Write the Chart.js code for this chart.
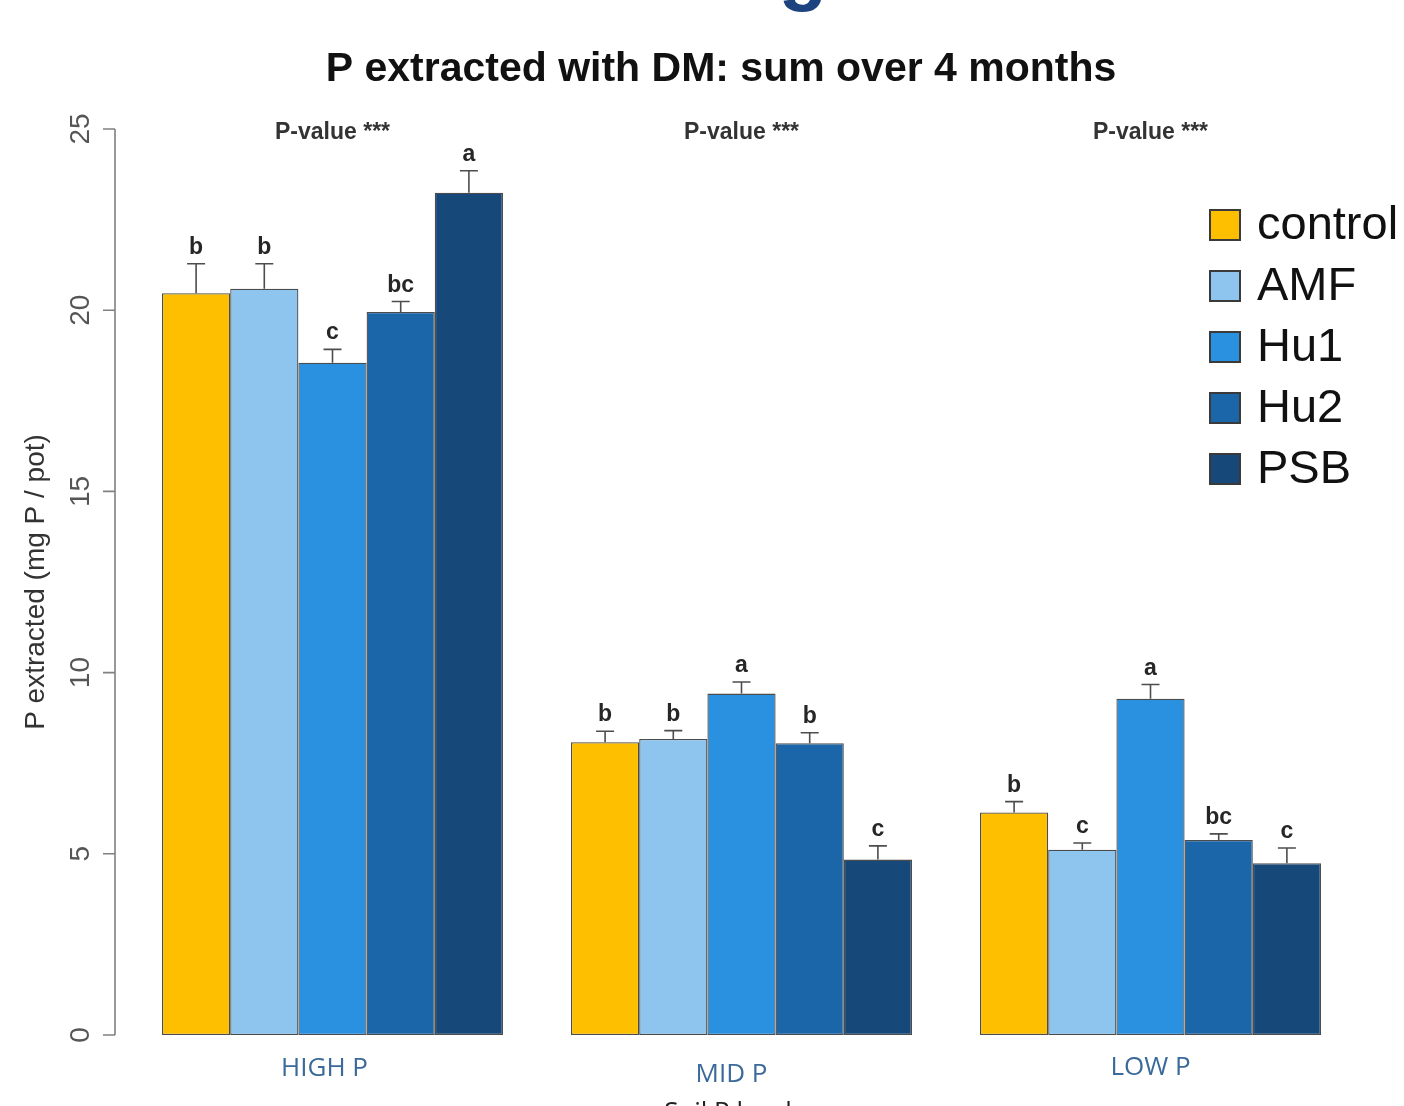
<!DOCTYPE html>
<html>
<head>
<meta charset="utf-8">
<title>P extracted with DM</title>
<script src="https://cdn.jsdelivr.net/npm/chart.js@4/dist/chart.umd.min.js"></script>
<style>
  html, body { margin: 0; padding: 0; background: #ffffff; }
  #wrap { position: relative; width: 1404px; height: 1106px; overflow: hidden; }
  canvas { display: block; }
</style>
</head>
<body>
<div id="wrap"><canvas id="chart" width="1404" height="1106"></canvas></div>
<script>
// Soil P levels (groups) and treatments (series)
const soilLevels = ['HIGH P', 'MID P', 'LOW P'];
const treatments = ['control', 'AMF', 'Hu1', 'Hu2', 'PSB'];

// Mean P extracted (mg P / pot), summed over 4 months
const controlMean = [20.47, 8.08, 6.14];
const amfMean     = [20.59, 8.17, 5.11];
const hu1Mean     = [18.55, 9.42, 9.28];
const hu2Mean     = [19.95, 8.05, 5.38];
const psbMean     = [23.24, 4.84, 4.74];

// Standard errors (upper whiskers)
const controlSE = [0.81, 0.30, 0.30];
const amfSE     = [0.69, 0.23, 0.19];
const hu1SE     = [0.37, 0.32, 0.39];
const hu2SE     = [0.29, 0.29, 0.17];
const psbSE     = [0.61, 0.38, 0.42];

// Significance letters per bar
const controlLetters = ['b', 'b', 'b'];
const amfLetters     = ['b', 'b', 'c'];
const hu1Letters     = ['c', 'a', 'a'];
const hu2Letters     = ['bc', 'b', 'bc'];
const psbLetters     = ['a', 'c', 'c'];

// Significance of the treatment effect within each soil level
const pValueLabels = ['P-value ***', 'P-value ***', 'P-value ***'];

// Y axis ticks
const yTicks = [0, 5, 10, 15, 20, 25];

const colors = ['#fdbf00', '#8ec5ef', '#2a90e0', '#1b66a8', '#16497a'];

const means = [controlMean, amfMean, hu1Mean, hu2Mean, psbMean];
const errors = [controlSE, amfSE, hu1SE, hu2SE, psbSE];
const letters = [controlLetters, amfLetters, hu1Letters, hu2Letters, psbLetters];

const datasets = treatments.map((t, i) => ({
  label: t,
  data: means[i],
  se: errors[i],
  letters: letters[i],
  backgroundColor: colors[i],
  borderColor: 'rgba(45,45,45,0.85)',
  borderWidth: 1.3,
  borderSkipped: false,
  categoryPercentage: 341 / 409,
  barPercentage: 1.0
}));

const SANS = '"Liberation Sans", Arial, Helvetica, sans-serif';

// Draws R-style axis, error bars, letters, titles and legend
const annotate = {
  id: 'annotate',
  afterDatasetsDraw(chart) {
    const ctx = chart.ctx;
    const y = chart.scales.y;
    const area = chart.chartArea;

    // error whiskers and letters
    chart.data.datasets.forEach((ds, di) => {
      const meta = chart.getDatasetMeta(di);
      meta.data.forEach((bar, i) => {
        const top = y.getPixelForValue(ds.data[i] + ds.se[i]);
        const cx = bar.x;
        ctx.save();
        ctx.strokeStyle = '#4d4d4d';
        ctx.lineWidth = 1.6;
        ctx.beginPath();
        ctx.moveTo(cx, bar.y);
        ctx.lineTo(cx, top);
        ctx.moveTo(cx - 9, top);
        ctx.lineTo(cx + 9, top);
        ctx.stroke();
        ctx.fillStyle = '#262626';
        ctx.font = 'bold 23px ' + SANS;
        ctx.textAlign = 'center';
        ctx.textBaseline = 'alphabetic';
        ctx.fillText(ds.letters[i], cx, top - 10);
        ctx.restore();
      });
    });

    // P-value labels above each group
    const xs = chart.scales.x;
    ctx.save();
    ctx.fillStyle = '#333333';
    ctx.font = 'bold 23px ' + SANS;
    ctx.textAlign = 'center';
    ctx.textBaseline = 'middle';
    soilLevels.forEach((lvl, i) => {
      ctx.fillText(pValueLabels[i], xs.getPixelForValue(i), 133);
    });
    ctx.restore();

    // y axis drawn left of the plot, R style
    const axX = area.left - 13;
    ctx.save();
    ctx.strokeStyle = '#808080';
    ctx.lineWidth = 1.6;
    ctx.beginPath();
    ctx.moveTo(axX, y.getPixelForValue(yTicks[0]));
    ctx.lineTo(axX, y.getPixelForValue(yTicks[yTicks.length - 1]));
    yTicks.forEach(v => {
      const py = y.getPixelForValue(v);
      ctx.moveTo(axX, py);
      ctx.lineTo(axX - 12, py);
    });
    ctx.stroke();
    ctx.fillStyle = '#555555';
    ctx.font = '28px ' + SANS;
    ctx.textAlign = 'center';
    ctx.textBaseline = 'middle';
    yTicks.forEach(v => {
      const py = y.getPixelForValue(v);
      ctx.save();
      ctx.translate(81, py);
      ctx.rotate(-Math.PI / 2);
      ctx.fillText(String(v), 0, 0);
      ctx.restore();
    });
    ctx.fillStyle = '#333333';
    ctx.font = '28px ' + SANS;
    ctx.save();
    ctx.translate(36, 582);
    ctx.rotate(-Math.PI / 2);
    ctx.fillText('P extracted (mg P / pot)', 0, 0);
    ctx.restore();
    ctx.restore();

    // group labels under the bars
    ctx.save();
    ctx.fillStyle = '#3b6a9a';
    ctx.font = '26px "Liberation Sans Narrow", "Open Sans", sans-serif';
    ctx.textAlign = 'center';
    ctx.textBaseline = 'middle';
    const labelY = [1069, 1075, 1068];
    const labelDx = [-8, -10, 0];
    soilLevels.forEach((lvl, i) => {
      ctx.fillText(lvl, xs.getPixelForValue(i) + labelDx[i], labelY[i]);
    });
    ctx.fillStyle = '#222222';
    ctx.font = '26px "Liberation Sans Narrow", "Open Sans", sans-serif';
    ctx.fillText('Soil P level', 728, 1113);
    ctx.restore();

    // main title
    ctx.save();
    ctx.fillStyle = '#111111';
    ctx.font = 'bold 41px ' + SANS;
    ctx.textAlign = 'center';
    ctx.textBaseline = 'middle';
    ctx.fillText('P extracted with DM: sum over 4 months', 721, 70);
    // descender of the slide heading above
    ctx.fillStyle = '#1c437f';
    ctx.font = 'bold 80px ' + SANS;
    ctx.textBaseline = 'alphabetic';
    ctx.fillText('g', 803, -5);
    ctx.restore();

    // legend
    ctx.save();
    ctx.font = '47px ' + SANS;
    ctx.textAlign = 'left';
    ctx.textBaseline = 'middle';
    chart.data.datasets.forEach((ds, i) => {
      const cy = 225 + i * 61;
      ctx.fillStyle = ds.backgroundColor;
      ctx.fillRect(1210, cy - 15, 30, 30);
      ctx.strokeStyle = '#3a3a3a';
      ctx.lineWidth = 2;
      ctx.strokeRect(1210, cy - 15, 30, 30);
      ctx.fillStyle = '#111111';
      ctx.fillText(ds.label, 1257, cy + 1);
    });
    ctx.restore();
  }
};

new Chart(document.getElementById('chart'), {
  type: 'bar',
  data: { labels: soilLevels, datasets },
  options: {
    responsive: false,
    animation: false,
    layout: { padding: { left: 128, right: 49, top: 129, bottom: 71 } },
    plugins: { legend: { display: false }, tooltip: { enabled: false }, title: { display: false } },
    scales: {
      x: { display: false, offset: true },
      y: { display: false, min: 0, max: 25 }
    }
  },
  plugins: [annotate]
});
</script>
</body>
</html>
